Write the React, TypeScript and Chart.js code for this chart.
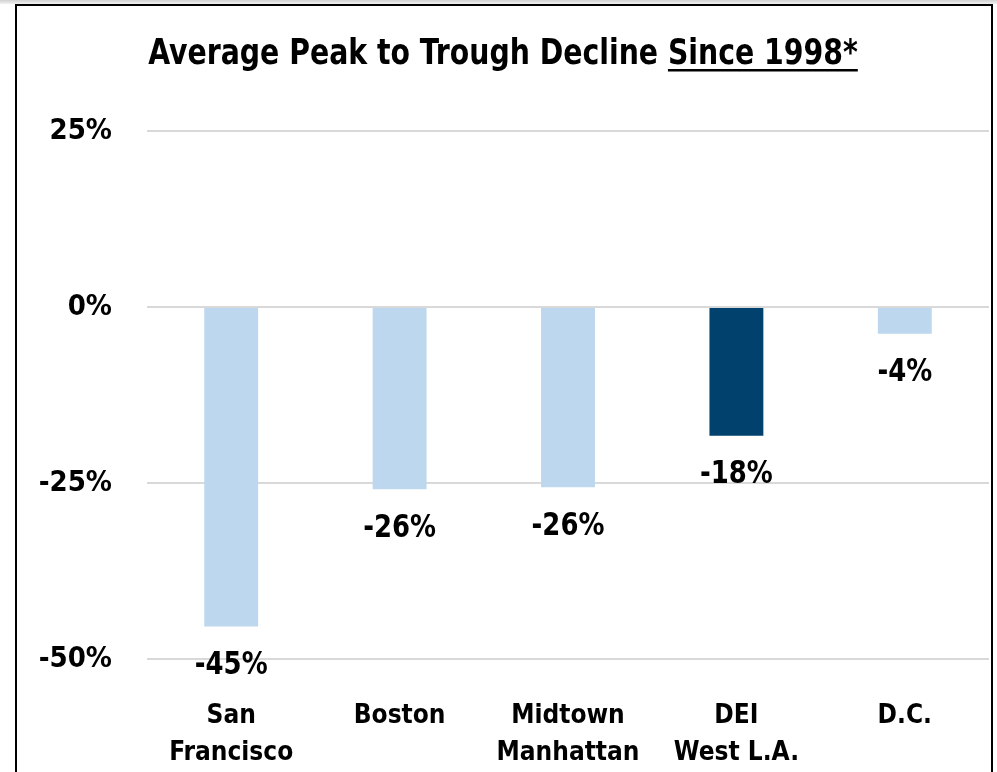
import React, { useEffect, useRef } from "react";
import { Chart, registerables } from "chart.js";

Chart.register(...registerables);

const titleMain = "Average Peak to Trough Decline ";
const titleUnderlined = "Since 1998*";
const categories: string[][] = [
  ["San", "Francisco"],
  ["Boston"],
  ["Midtown", "Manhattan"],
  ["DEI", "West L.A."],
  ["D.C."],
];
const values: number[] = [-45.4, -25.9, -25.6, -18.3, -3.8];
const valueLabels: string[] = ["-45%", "-26%", "-26%", "-18%", "-4%"];
const barColors: string[] = ["#BDD7EE", "#BDD7EE", "#BDD7EE", "#00416D", "#BDD7EE"];
const yMin = -50;
const yMax = 25;
const yStep = 25;

const FONT = "'Liberation Sans Narrow', 'Arial Narrow', 'DejaVu Sans Condensed', sans-serif";

const titlePlugin = {
  id: "customTitle",
  afterDraw(chart: any) {
    const ctx = chart.ctx;
    ctx.save();
    ctx.font = `bold 36px ${FONT}`;
    ctx.fillStyle = "#000";
    ctx.textBaseline = "alphabetic";
    ctx.textAlign = "left";
    const w1 = ctx.measureText(titleMain).width;
    const w2 = ctx.measureText(titleUnderlined).width;
    const cx = 503;
    const baseline = 64;
    ctx.translate(cx, 0);
    ctx.scale(0.875, 1);
    const x0 = -(w1 + w2) / 2;
    ctx.fillText(titleMain, x0, baseline);
    ctx.fillText(titleUnderlined, x0 + w1, baseline);
    ctx.fillRect(x0 + w1, baseline + 5, w2, 2.5);
    ctx.restore();
  },
};

const labelPlugin = {
  id: "valueLabels",
  afterDatasetsDraw(chart: any) {
    const ctx = chart.ctx;
    const meta = chart.getDatasetMeta(0);
    meta.data.forEach((el: any, i: number) => {
      ctx.save();
      ctx.font = `bold 32px ${FONT}`;
      ctx.fillStyle = "#000";
      ctx.textAlign = "center";
      ctx.textBaseline = "middle";
      ctx.translate(el.x, el.y + 39);
      ctx.scale(0.9, 1);
      ctx.fillText(valueLabels[i], 0, 0);
      ctx.restore();
    });
  },
};

export default function App() {
  const ref = useRef<HTMLCanvasElement | null>(null);
  useEffect(() => {
    if (!ref.current) return;
    const chart = new Chart(ref.current, {
      type: "bar",
      data: {
        labels: categories,
        datasets: [
          {
            data: values,
            backgroundColor: barColors,
            borderWidth: 0,
            barPercentage: 0.32,
            categoryPercentage: 1,
          },
        ],
      },
      options: {
        animation: false,
        responsive: false,
        maintainAspectRatio: false,
        layout: { padding: { top: 131, right: 8, bottom: 0, left: 0 } },
        plugins: {
          legend: { display: false },
          title: { display: false },
          tooltip: { enabled: false },
        },
        scales: {
          x: {
            grid: { display: false },
            border: { display: false },
            ticks: {
              color: "#000",
              font: { family: FONT, size: 26, weight: "bold", lineHeight: 1.423 },
              padding: 31,
              maxRotation: 0,
              autoSkip: false,
            },
            afterFit(scale: any) {
              scale.height = 113;
            },
          },
          y: {
            min: yMin,
            max: yMax,
            grid: { color: "#D9D9D9", lineWidth: 2, drawTicks: false },
            border: { display: false },
            ticks: {
              stepSize: yStep,
              color: "#000",
              font: { family: FONT, size: 29, weight: "bold" },
              padding: 35,
              callback: (v: any) => `${v}%`,
            },
            afterFit(scale: any) {
              scale.width = 147;
            },
          },
        },
      },
      plugins: [titlePlugin, labelPlugin],
    });
    return () => chart.destroy();
  }, []);

  return (
    <div style={{ position: "fixed", left: 0, top: 0, width: 997, height: 772, background: "#fff", overflow: "hidden" }}>
      <div style={{ position: "absolute", left: 0, top: 0, width: 997, height: 4, background: "linear-gradient(#d0d0d0, #f2f2f2)" }} />
      <canvas ref={ref} width={997} height={772} style={{ position: "absolute", left: 0, top: 0, width: 997, height: 772 }} />
      <div
        style={{
          position: "absolute",
          left: 15,
          top: 4,
          width: 974,
          height: 820,
          border: "2.5px solid #000",
          pointerEvents: "none",
        }}
      />
    </div>
  );
}
